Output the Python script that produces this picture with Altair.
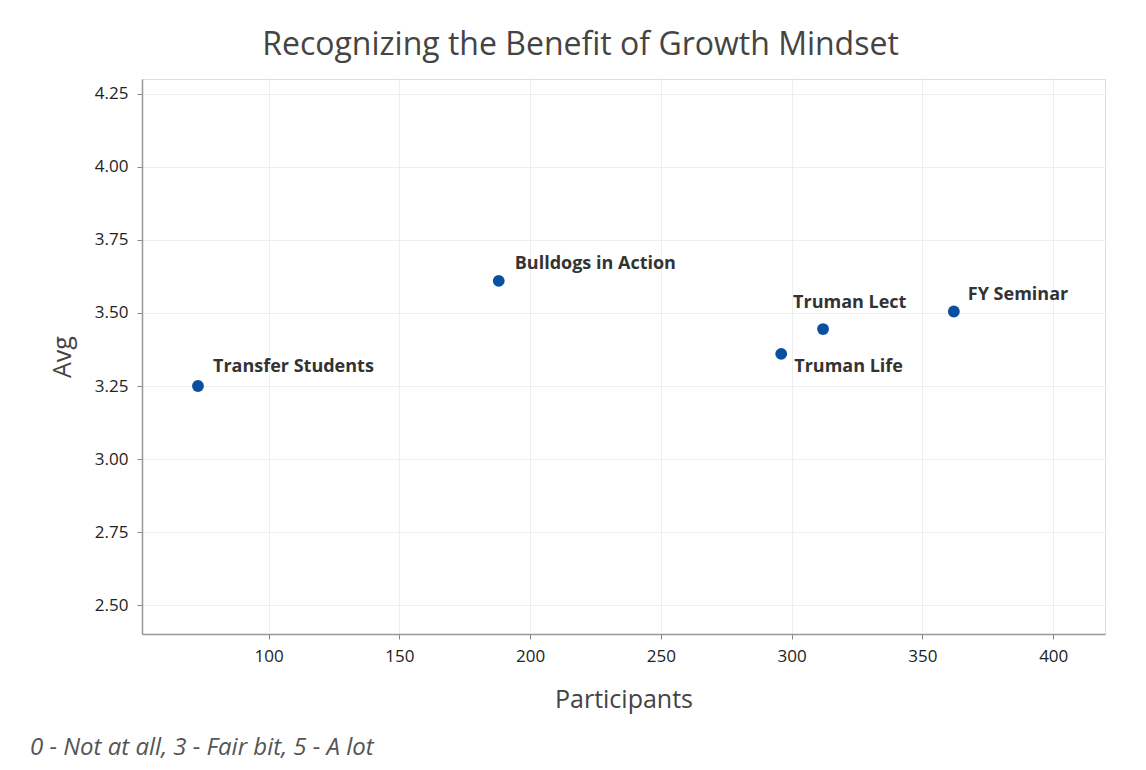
import altair as alt
import pandas as pd

programs = ["Transfer Students", "Bulldogs in Action", "Truman Life", "Truman Lect", "FY Seminar"]
participants = [73, 188, 296, 312, 362]
avg = [3.25, 3.61, 3.36, 3.445, 3.505]

df = pd.DataFrame({"Program": programs, "Participants": participants, "Avg": avg})

FONT = "Open Sans"

x = alt.X("Participants:Q",
          scale=alt.Scale(domain=[51.6, 419.8], nice=False, zero=False),
          axis=alt.Axis(values=[100, 150, 200, 250, 300, 350, 400], title="Participants",
                        labelFontSize=17, labelColor="#222222", labelFont=FONT,
                        titleFontSize=25, titleColor="#444444", titleFont=FONT, titleFontWeight="normal",
                        titlePadding=23, labelPadding=9, tickSize=5, tickColor="#888888",
                        domainColor="#999999", domainWidth=1.5, gridColor="#eeeeee"))
y = alt.Y("Avg:Q",
          scale=alt.Scale(domain=[2.401, 4.301], nice=False, zero=False),
          axis=alt.Axis(values=[2.5, 2.75, 3.0, 3.25, 3.5, 3.75, 4.0, 4.25], format=".2f", title="Avg",
                        labelFontSize=17, labelColor="#222222", labelFont=FONT,
                        titleFontSize=25, titleColor="#444444", titleFont=FONT, titleFontWeight="normal",
                        titlePadding=19, labelPadding=9, tickSize=5, tickColor="#888888",
                        domainColor="#999999", domainWidth=1.5, gridColor="#eeeeee"))

base = alt.Chart(df)

points = base.mark_circle(size=140, color="#0a50a1", opacity=1).encode(x=x, y=y)

def label(name, dx, dy, align="left"):
    return base.transform_filter(alt.datum.Program == name).mark_text(
        align=align, baseline="middle", dx=dx, dy=dy, fontSize=18, fontWeight="bold",
        font=FONT, color="#333333").encode(x=x, y=y, text="Program:N")

labels = [
    label("Transfer Students", 15, -19),
    label("Bulldogs in Action", 16, -17),
    label("Truman Lect", -30, -26),
    label("Truman Life", 13, 13),
    label("FY Seminar", 14, -17),
]

footnote = alt.Chart(pd.DataFrame({"t": ["0 - Not at all, 3 - Fair bit, 5 - A lot"]})).mark_text(
    align="left", baseline="middle", fontSize=24, fontStyle="italic", font=FONT, color="#555555"
).encode(x=alt.value(30 - 142), y=alt.value(748 - 79), text="t:N")

chart = alt.layer(points, *labels, footnote).properties(
    width=963, height=555,
    title=alt.TitleParams("Recognizing the Benefit of Growth Mindset", fontSize=32, font=FONT,
                          color="#444444", fontWeight="normal", anchor="middle", dx=-43, offset=17),
    autosize=alt.AutoSizeParams(type="none"),
    padding={"left": 134, "top": 71, "right": 25, "bottom": 130},
).configure_view(stroke="#999999", strokeWidth=1.5).configure(background="white")

chart.save("out.html", embed_options={"renderer": "svg", "actions": False})
